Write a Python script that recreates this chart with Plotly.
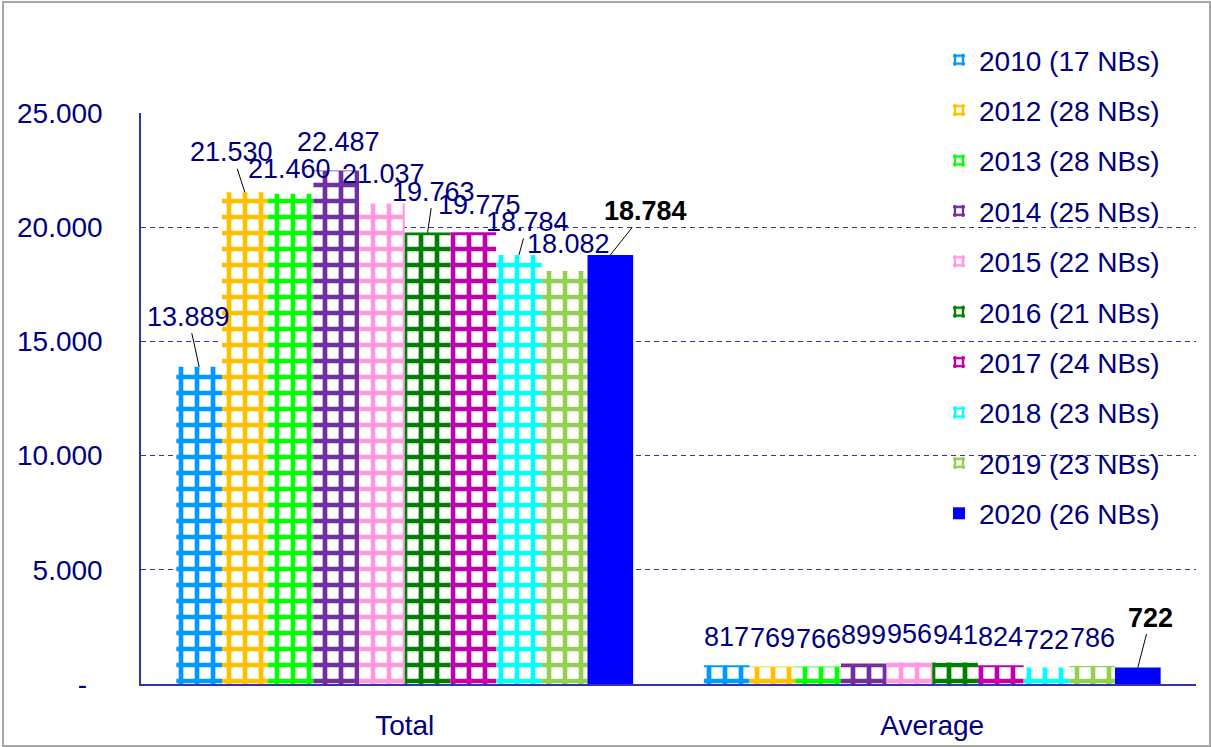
import plotly.graph_objects as go

# ---------------- data ----------------
categories = ["Total", "Average"]
series_names = ["2010 (17 NBs)", "2012 (28 NBs)", "2013 (28 NBs)", "2014 (25 NBs)",
                "2015 (22 NBs)", "2016 (21 NBs)", "2017 (24 NBs)", "2018 (23 NBs)",
                "2019 (23 NBs)", "2020 (26 NBs)"]
total_values = [13889, 21530, 21460, 22487, 21037, 19763, 19775, 18784, 18082, 18784]
average_values = [817, 769, 766, 899, 956, 941, 824, 722, 786, 722]
y_tickvals = [0, 5000, 10000, 15000, 20000, 25000]
y_ticktext = ["-\u00a0\u00a0", "5.000", "10.000", "15.000", "20.000", "25.000"]

# ---------------- styles ----------------
colors = ["#0099ff", "#ffc000", "#00ff00", "#7030a0", "#ff99e0",
          "#008000", "#c000b0", "#00ffff", "#92d050", "#0000ff"]
patterned = [True] * 9 + [False]
NAVY = "#000080"
GRID = "#3434a8"
FONT = "Liberation Sans"

# label offsets (pixels) relative to bar top centre, and leader-line flags
total_dx = [-11, -13, -1, 2, 2, 6, 6, 9, 4, 35]
total_dy = [-50, -40, -25, -28, -30, -41, -27, -33, -27, -44]
total_leader = [True, True, False, False, False, True, False, True, False, True]
avg_dx = [0, 0, 0, 0, 0, 0, 0, 0, 0, 13]
avg_dy = [-28, -28, -28, -28, -28, -28, -28, -28, -28, -50]
avg_leader = [False] * 9 + [True]
bold = [False] * 9 + [True]

W, H = 1211, 747
ML, MR, MT, MB = 141, 15, 113, 63
BARGAP = 0.134

fig = go.Figure()
for i, name in enumerate(series_names):
    if patterned[i]:
        pattern = dict(shape="+", fgcolor=colors[i], bgcolor="white",
                       size=16, solidity=0.5, fillmode="replace")
    else:
        pattern = dict(shape="")
    fig.add_trace(go.Bar(
        x=categories, y=[total_values[i], average_values[i]], name=name,
        legendgroup=str(i),
        marker=dict(color=colors[i], pattern=pattern, line=dict(width=0)),
    ))

plot_w = W - ML - MR
plot_h = H - MT - MB
cat_w = plot_w / len(categories)
bar_w = cat_w * (1 - BARGAP) / len(series_names)

def fmt(v):
    return f"{v:,}".replace(",", ".")

annotations = []
for i in range(len(series_names)):
    off = (i - (len(series_names) - 1) / 2) * bar_w
    for cat, vals, dxs, dys, leads in (("Total", total_values, total_dx, total_dy, total_leader),
                                       ("Average", average_values, avg_dx, avg_dy, avg_leader)):
        txt = fmt(vals[i])
        if bold[i]:
            txt = "<b>" + txt + "</b>"
        annotations.append(dict(
            x=cat, y=vals[i], xref="x", yref="y", xshift=off,
            text=txt, showarrow=True, ax=dxs[i], ay=dys[i],
            arrowhead=0, arrowwidth=1, standoff=0,
            arrowcolor="black" if leads[i] else "rgba(0,0,0,0)",
            font=dict(family=FONT, size=27, color="black" if bold[i] else NAVY),
        ))

fig.update_layout(
    width=W, height=H,
    margin=dict(l=ML, r=MR, t=MT, b=MB, pad=0, autoexpand=False),
    paper_bgcolor="white", plot_bgcolor="white",
    barmode="group", bargap=BARGAP, bargroupgap=0,
    font=dict(family=FONT, size=28, color=NAVY),
    xaxis=dict(showgrid=False, showline=True, linecolor=GRID, linewidth=2,
               ticks="", tickfont=dict(size=28, color=NAVY), ticklabelstandoff=15),
    yaxis=dict(range=[0, 25000], tickvals=y_tickvals, ticktext=y_ticktext,
               showgrid=True, gridcolor=GRID, gridwidth=1, griddash="5px,4px",
               zeroline=False, showline=True, linecolor=GRID, linewidth=1.5,
               ticks="", tickfont=dict(size=28, color=NAVY), ticklabelstandoff=31),
    legend=dict(x=(939 - ML) / plot_w, xanchor="left",
                y=(H - MB - 538) / plot_h, yanchor="bottom",
                bgcolor="rgba(0,0,0,0)", font=dict(size=28, color=NAVY),
                tracegroupgap=11, traceorder="grouped"),
    annotations=annotations,
    shapes=[dict(type="rect", xref="paper", yref="paper",
                 x0=-(ML - 3) / plot_w, x1=(W - ML - 1) / plot_w,
                 y0=-(MB - 1) / plot_h, y1=(H - MB - 2) / plot_h,
                 line=dict(color="#a6a6a6", width=2), layer="below")],
    showlegend=True,
)

fig.write_html("out.html", config={"displayModeBar": False},
               post_script="document.body.style.margin='0';")
